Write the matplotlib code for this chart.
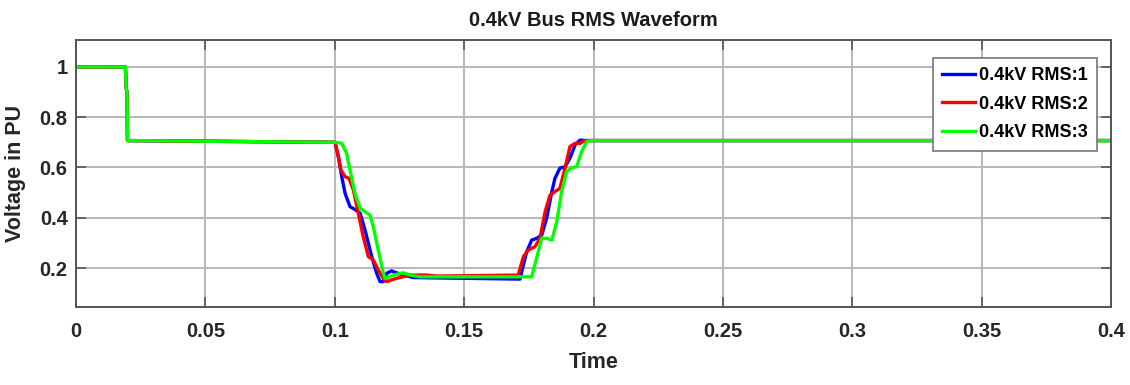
import matplotlib
matplotlib.use('Agg')
import matplotlib.pyplot as plt

# values (time in s, voltage in pu)
t_blue = [0, 0.0191, 0.0194, 0.0197, 0.0199, 0.1001, 0.1014, 0.1027, 0.1040, 0.1059, 0.1078,
          0.1098, 0.1117, 0.1143, 0.1162, 0.1175, 0.1188, 0.1201, 0.1220, 0.1227, 0.1265,
          0.1304, 0.1716, 0.1729, 0.1742, 0.1761, 0.1780, 0.1800, 0.1819, 0.1839, 0.1851,
          0.1870, 0.1890, 0.1909, 0.1929, 0.1948, 0.1967, 0.4]
v_blue = [1.0, 1.0, 0.915, 0.90, 0.707, 0.700, 0.643, 0.563, 0.497, 0.444, 0.433,
          0.418, 0.351, 0.245, 0.179, 0.146, 0.146, 0.179, 0.189, 0.185, 0.172,
          0.162, 0.156, 0.212, 0.265, 0.311, 0.318, 0.331, 0.398, 0.504, 0.557,
          0.597, 0.603, 0.637, 0.690, 0.709, 0.707, 0.707]

t_red = [0, 0.0191, 0.0194, 0.0197, 0.0199, 0.1001, 0.1011, 0.1024, 0.1040, 0.1055, 0.1072,
         0.1091, 0.1110, 0.1130, 0.1149, 0.1168, 0.1188, 0.1200, 0.1239, 0.1291, 0.1355,
         0.1394, 0.1709, 0.1729, 0.1748, 0.1774, 0.1793, 0.1813, 0.1832, 0.1851, 0.1870,
         0.1890, 0.1909, 0.1929, 0.1948, 0.1967, 0.4]
v_red = [1.0, 1.0, 0.915, 0.90, 0.707, 0.700, 0.656, 0.590, 0.563, 0.557, 0.510,
         0.418, 0.325, 0.245, 0.232, 0.192, 0.159, 0.146, 0.159, 0.172, 0.172,
         0.168, 0.172, 0.245, 0.272, 0.285, 0.318, 0.424, 0.490, 0.504, 0.517,
         0.597, 0.683, 0.696, 0.696, 0.707, 0.707]

t_green = [0, 0.0191, 0.0194, 0.0197, 0.0199, 0.1001, 0.1027, 0.1046, 0.1059, 0.1078, 0.1098,
           0.1117, 0.1136, 0.1149, 0.1168, 0.1188, 0.1194, 0.1227, 0.1265, 0.1291, 0.1329,
           0.1742, 0.1761, 0.1780, 0.1800, 0.1819, 0.1839, 0.1858, 0.1877, 0.1896, 0.1916,
           0.1935, 0.1954, 0.1974, 0.1987, 0.4]
v_green = [1.0, 1.0, 0.915, 0.90, 0.707, 0.700, 0.696, 0.656, 0.590, 0.497, 0.438,
           0.424, 0.411, 0.364, 0.272, 0.179, 0.159, 0.172, 0.181, 0.172, 0.165,
           0.165, 0.165, 0.239, 0.318, 0.318, 0.311, 0.384, 0.504, 0.583, 0.599,
           0.603, 0.663, 0.703, 0.707, 0.707]

series_labels = ["0.4kV RMS:1", "0.4kV RMS:2", "0.4kV RMS:3"]
x_ticks = [0, 0.05, 0.1, 0.15, 0.2, 0.25, 0.3, 0.35, 0.4]
x_tick_labels = ["0", "0.05", "0.1", "0.15", "0.2", "0.25", "0.3", "0.35", "0.4"]
y_ticks = [0.2, 0.4, 0.6, 0.8, 1.0]
y_tick_labels = ["0.2", "0.4", "0.6", "0.8", "1"]

plt.rcParams['font.family'] = ['Liberation Sans', 'DejaVu Sans']
plt.rcParams['font.weight'] = 'bold'

fig = plt.figure(figsize=(11.3, 3.85), dpi=100)
ax = fig.add_axes([76 / 1130, 1 - 307 / 385, 1035 / 1130, 267 / 385])

ax.plot(t_blue, v_blue, color=(0, 0, 1), lw=2.4, label=series_labels[0])
ax.plot(t_red, v_red, color=(1, 0, 0), lw=2.4, label=series_labels[1])
ax.plot(t_green, v_green, color=(0, 1, 0), lw=2.4, label=series_labels[2])

ax.set_xlim(0, 0.4)
ax.set_ylim(0.045, 1.107)
ax.set_xticks(x_ticks)
ax.set_xticklabels(x_tick_labels)
ax.set_yticks(y_ticks)
ax.set_yticklabels(y_tick_labels)

ax.grid(True, color="#b8b8b8", lw=1.4)
ax.set_axisbelow(True)
for sp in ax.spines.values():
    sp.set_color("#555555")
    sp.set_linewidth(1.4)
ax.tick_params(direction="in", length=7, width=1.2, color="#555555",
               labelsize=14.5, labelcolor="#262626", top=True, right=True)
ax.tick_params(axis="x", pad=11)
ax.tick_params(axis="y", pad=6)

ax.set_title("0.4kV Bus RMS Waveform", fontsize=14.5, fontweight="bold", color="#1a1a1a", pad=10)
ax.set_xlabel("Time", fontsize=15.5, fontweight="bold", color="#262626", labelpad=8)
ax.set_ylabel("Voltage in PU", fontsize=15.5, fontweight="bold", color="#262626", labelpad=10)

leg = ax.legend(loc="upper right", bbox_to_anchor=(0.9865, 0.9326), fontsize=13,
                frameon=True, fancybox=False, handlelength=1.8, handletextpad=0.25,
                labelspacing=0.65, borderpad=0.5, borderaxespad=0)
leg.get_frame().set_edgecolor("#777777")
leg.get_frame().set_linewidth(1.2)
leg.get_frame().set_alpha(1)

fig.savefig("out.png", dpi=100)
